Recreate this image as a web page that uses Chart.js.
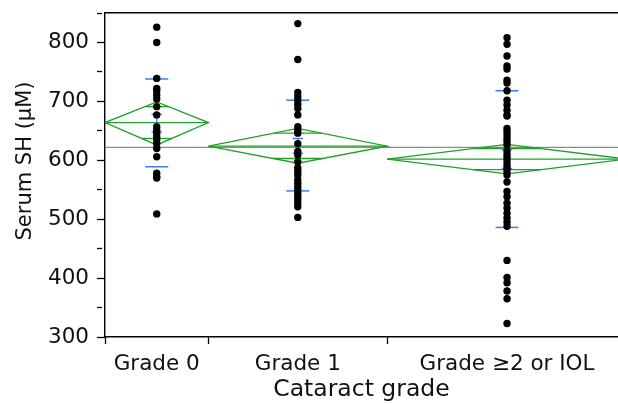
<!DOCTYPE html>
<html>
<head>
<meta charset="utf-8">
<script src="https://cdn.jsdelivr.net/npm/chart.js@4.4.1/dist/chart.umd.min.js"></script>
<style>
  html, body { margin: 0; padding: 0; background: #fff; overflow: hidden; }
  canvas { display: block; }
</style>
</head>
<body>
<canvas id="c" width="618" height="404" style="width:618px;height:404px"></canvas>
<script>
// ---- Data ----
const categories = ['Grade 0', 'Grade 1', 'Grade \u22652 or IOL'];
const groupN = [22, 38, 51];                 // group sizes (x widths proportional to n)
const grade0 = [826, 800, 739, 722, 718, 711, 704, 691, 677, 657, 651, 646, 640, 635, 628, 620, 606, 578, 572, 570, 509];
const grade1 = [832, 771, 715, 708, 702, 695, 688, 677, 657, 651, 646, 628, 615, 609, 597, 587, 581, 575, 567, 561, 555, 550, 544, 539, 533, 527, 521, 503];
const grade2 = [808, 797, 777, 760, 755, 736, 731, 718, 702, 694, 685, 677, 675, 654, 649, 643, 637, 632, 626, 615, 609, 604, 598, 592, 587, 581, 575, 563, 547, 538, 527, 519, 510, 502, 495, 488, 430, 401, 392, 378, 365, 323];
const groupValues = [grade0, grade1, grade2];
const means = [664, 624, 602];
const ciLow = [626, 595, 577];
const ciHigh = [699, 654, 627];
const overlapLow = [637, 603, 584];
const overlapHigh = [691, 646, 620];
const sdLow = [589, 548, 486];
const sdHigh = [738, 702, 718];
const seLow = [648, 612, 586];
const seHigh = [678, 637, 618];
const grandMean = 622;
const yTicks = [300, 400, 500, 600, 700, 800];

// ---- Build group geometry in x units (units = observations) ----
const bounds = [0];
groupN.forEach(n => bounds.push(bounds[bounds.length - 1] + n));
const centers = groupN.map((n, i) => bounds[i] + n / 2);
const total = bounds[bounds.length - 1];
const xVisibleMax = 109.1;   // reference plot is cut off at the right edge

const GREEN = '#22a02c';
const BLUE = '#3b7cf0';
const datasets = [];

// points (on top)
groupValues.forEach((vals, i) => {
  datasets.push({
    type: 'scatter', order: 0,
    data: vals.map(v => ({ x: centers[i], y: v })),
    backgroundColor: '#000', borderColor: '#000', pointRadius: 3.7, pointHoverRadius: 3.7, borderWidth: 0
  });
});

function seg(points, color, width, order) {
  datasets.push({
    type: 'line', order: order, data: points, showLine: true,
    borderColor: color, borderWidth: width, pointRadius: 0, pointHoverRadius: 0,
    fill: false, tension: 0
  });
}

// grand mean line
seg([{ x: 0, y: grandMean }, { x: total, y: grandMean }], '#8a8a8a', 1.2, 5);

groupN.forEach((n, i) => {
  const L = bounds[i], R = bounds[i + 1], C = centers[i], hw = n / 2;
  // diamond
  seg([{ x: L, y: means[i] }, { x: C, y: ciHigh[i] }, { x: R, y: means[i] }, { x: C, y: ciLow[i] }, { x: L, y: means[i] }], GREEN, 1.3, 3);
  // mean line
  seg([{ x: L, y: means[i] }, { x: R, y: means[i] }], GREEN, 1.3, 3);
  // overlap marks
  const hHalf = ciHigh[i] - means[i], lHalf = means[i] - ciLow[i];
  const wH = hw * (1 - (overlapHigh[i] - means[i]) / hHalf);
  const wL = hw * (1 - (means[i] - overlapLow[i]) / lHalf);
  seg([{ x: C - wH, y: overlapHigh[i] }, { x: C + wH, y: overlapHigh[i] }], GREEN, 1.3, 3);
  seg([{ x: C - wL, y: overlapLow[i] }, { x: C + wL, y: overlapLow[i] }], GREEN, 1.3, 3);
  // std dev lines
  const sdCap = 2.45, seCap = 1.1;
  seg([{ x: C - sdCap, y: sdHigh[i] }, { x: C + sdCap, y: sdHigh[i] }], BLUE, 1.5, 2);
  seg([{ x: C - sdCap, y: sdLow[i] }, { x: C + sdCap, y: sdLow[i] }], BLUE, 1.5, 2);
  // mean error bar
  seg([{ x: C, y: seLow[i] }, { x: C, y: seHigh[i] }], BLUE, 1.3, 2);
  seg([{ x: C - seCap, y: seHigh[i] }, { x: C + seCap, y: seHigh[i] }], BLUE, 1.5, 2);
  seg([{ x: C - seCap, y: seLow[i] }, { x: C + seCap, y: seLow[i] }], BLUE, 1.5, 2);
});

const FONT = "'DejaVu Sans', Verdana, sans-serif";
const tickValuesX = [];
groupN.forEach((n, i) => { tickValuesX.push(bounds[i]); tickValuesX.push(centers[i]); });
const isCenter = v => centers.indexOf(v) >= 0;
const zeroPad = s => { s.paddingTop = 0; s.paddingBottom = 0; s.paddingLeft = 0; s.paddingRight = 0; };

const yTitlePlugin = {
  id: 'yTitle',
  afterDraw(chart) {
    const ctx = chart.ctx;
    ctx.save();
    ctx.font = "21px " + FONT;
    ctx.fillStyle = '#111';
    ctx.textAlign = 'center';
    ctx.textBaseline = 'middle';
    ctx.translate(26, 161);
    ctx.rotate(-Math.PI / 2);
    ctx.fillText('Serum SH (\u03bcM)', 0, 0);
    ctx.restore();
  }
};

new Chart(document.getElementById('c'), {
  type: 'scatter',
  data: { datasets },
  plugins: [yTitlePlugin],
  options: {
    responsive: false, maintainAspectRatio: false, animation: false, devicePixelRatio: 1,
    layout: { autoPadding: false, padding: { top: 13, right: 0, bottom: 0, left: 0 } },
    plugins: { legend: { display: false }, tooltip: { enabled: false } },
    events: [],
    scales: {
      x: {
        type: 'linear', min: 0, max: xVisibleMax, position: 'bottom',
        afterBuildTicks: s => { s.ticks = tickValuesX.map(v => ({ value: v })); },
        afterFit: s => { s.height = 67; zeroPad(s); },
        ticks: {
          autoSkip: false, maxRotation: 0, padding: 8,
          color: '#111', font: { family: FONT, size: 21.5 },
          callback: v => { const k = centers.indexOf(v); return k >= 0 ? categories[k] : ''; }
        },
        grid: {
          drawOnChartArea: false, drawTicks: true, tickLength: 7, tickWidth: 1.3,
          tickColor: c => (c.tick && isCenter(c.tick.value)) ? 'rgba(0,0,0,0)' : '#000'
        },
        border: { display: true, color: '#000', width: 1.4 },
        title: { display: true, text: 'Cataract grade', color: '#111', font: { family: FONT, size: 23.5 }, padding: { top: 0, bottom: 0 } }
      },
      x2: {
        type: 'linear', min: 0, max: xVisibleMax, position: 'top',
        afterFit: s => { s.height = 0; zeroPad(s); },
        ticks: { display: false },
        grid: { drawOnChartArea: false, drawTicks: false },
        border: { display: true, color: '#000', width: 1.4 }
      },
      y: {
        type: 'linear', min: 300, max: 850, position: 'left',
        afterBuildTicks: s => {
          const t = [];
          for (let v = 300; v <= 850; v += 50) t.push({ value: v });
          s.ticks = t;
        },
        afterFit: s => { s.width = 105; zeroPad(s); },
        ticks: {
          padding: 8, color: '#111', font: { family: FONT, size: 21.5 },
          callback: v => yTicks.indexOf(v) >= 0 ? String(v) : ''
        },
        grid: {
          drawOnChartArea: false, drawTicks: true, tickLength: 8, tickWidth: 1.3, tickColor: '#000',
          tickBorderDash: c => (c.tick && yTicks.indexOf(c.tick.value) >= 0) ? [] : [5, 50]
        },
        border: { display: true, color: '#000', width: 1.4 }
      }
    }
  }
});
</script>
</body>
</html>
